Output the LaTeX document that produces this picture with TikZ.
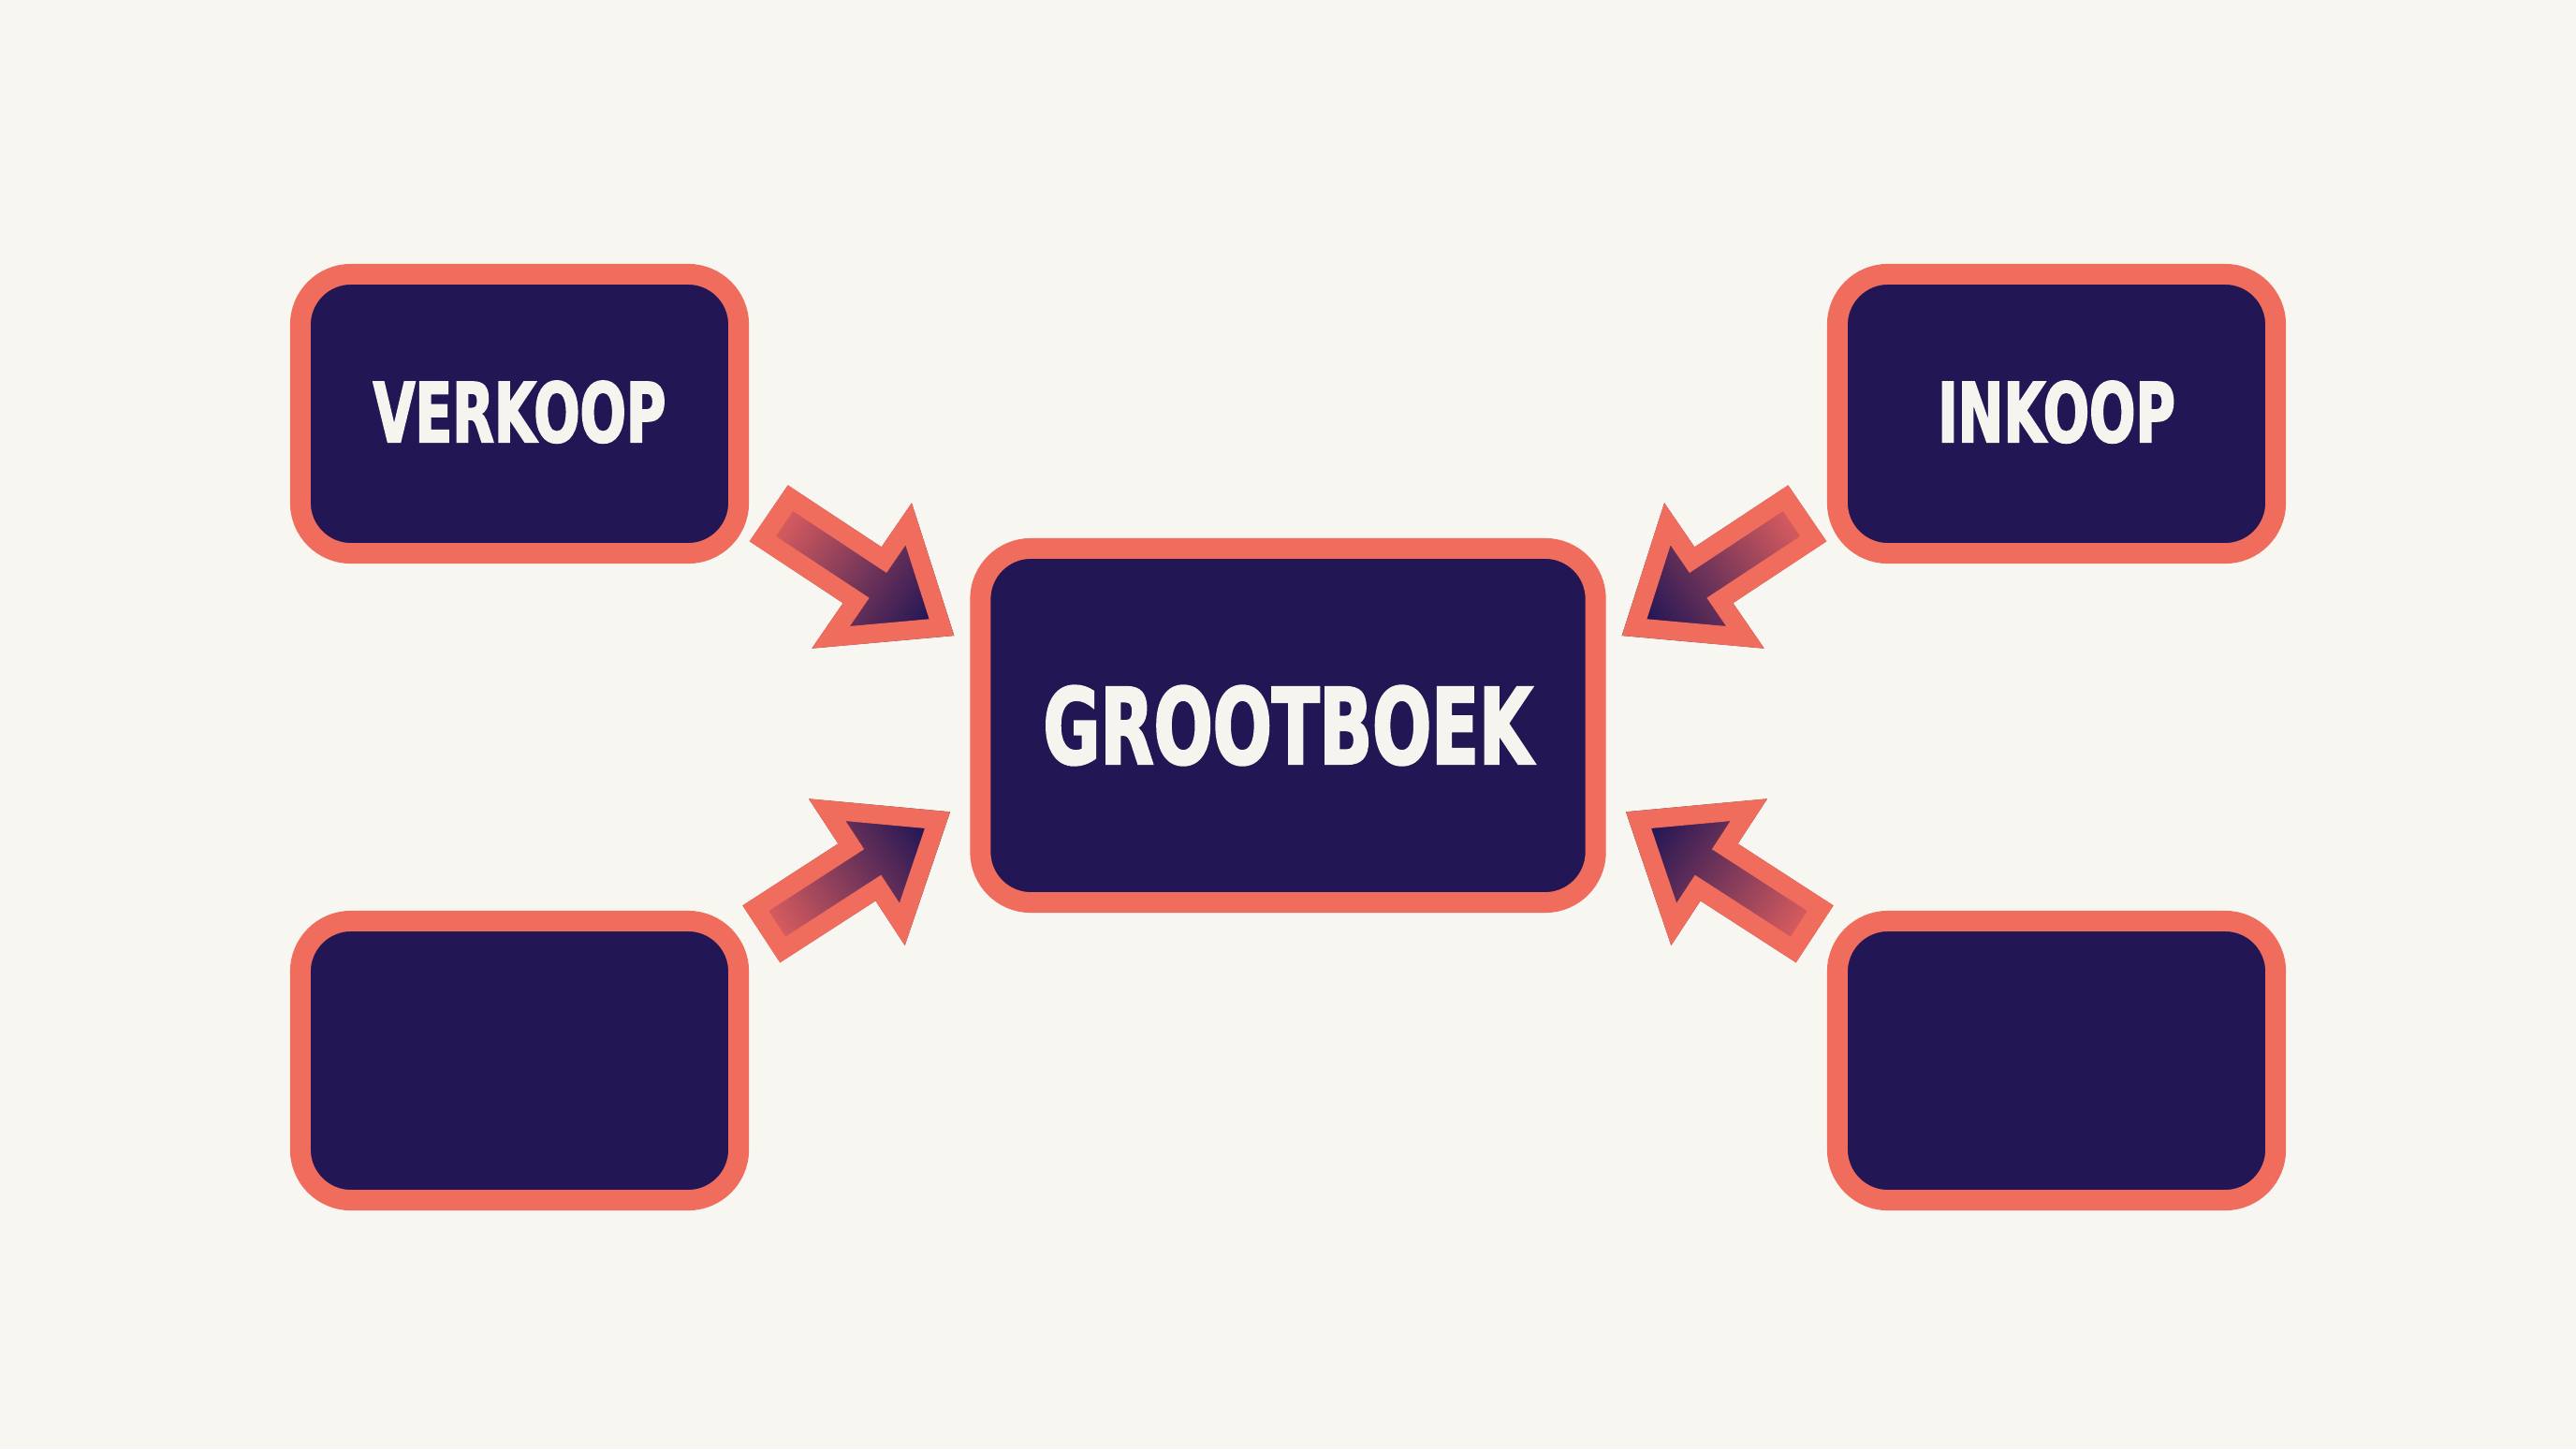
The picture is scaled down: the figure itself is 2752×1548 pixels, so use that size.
\documentclass[tikz,border=0pt]{standalone}
\usepackage{fontspec}
\usepackage{xcolor}
\usepackage{tikz}
\usetikzlibrary{shapes,positioning,calc}

\newfontfamily\boxfont[FakeStretch=0.66,FakeBold=2]{DejaVu Sans Bold}

\definecolor{bgcream}{HTML}{F7F6F1}
\definecolor{boxnavy}{HTML}{231655}
\definecolor{edgeorange}{HTML}{F06C5C}
\definecolor{tailred}{HTML}{E2605F}
\definecolor{labelwhite}{HTML}{F6F4EF}

\begin{document}
\begin{tikzpicture}[x=0.01cm, y=-0.01cm,
    ledger/.style={draw=edgeorange, fill=boxnavy, line width=0.22cm,
        rounded corners=0.54cm, inner sep=0pt, text=labelwhite},
    sidebox/.style={ledger, minimum width=4.68cm, minimum height=2.98cm,
        font=\boxfont\fontsize{25pt}{25pt}\selectfont},
    mainbox/.style={ledger, minimum width=6.57cm, minimum height=3.78cm,
        font=\boxfont\fontsize{32pt}{32pt}\selectfont},
    flowarrow/.style={top color=tailred, middle color=tailred!45!boxnavy,
        bottom color=boxnavy, draw=edgeorange, line width=0.4cm, line join=miter}]

    % Achtergrond
    \fill[bgcream] (0,0) rectangle (2752,1548);

    % Centrale blok
    \node[mainbox] (grootboek) at (1376,775) {GROOTBOEK};

    % Blokken rondom
    \node[sidebox] (verkoop) at (555,442) {\raisebox{0.5mm}{VERKOOP}};
    \node[sidebox] (inkoop) at (2197,442) {\raisebox{0.5mm}{INKOOP}};
    \node[sidebox] (linksonder) at (555,1133) {};
    \node[sidebox] (rechtsonder) at (2197,1133) {};

    % Pijl linksboven
    \begin{scope}
        \clip (841.7,518.3) -- (941.7,584.4) -- (974,537.3) -- (1019.3,679)
            -- (867.3,692.7) -- (900.6,644.2) -- (800.7,578.3) -- cycle;
        \shadedraw[flowarrow, shading angle=56.6] (841.7,518.3) -- (941.7,584.4)
            -- (974,537.3) -- (1019.3,679) -- (867.3,692.7) -- (900.6,644.2)
            -- (800.7,578.3) -- cycle;
    \end{scope}

    % Pijl linksonder
    \begin{scope}
        \clip (833.3,1028.3) -- (935.4,962.3) -- (966.7,1010) -- (1015,867.3)
            -- (864,853.3) -- (895.4,901.3) -- (793.3,967.3) -- cycle;
        \shadedraw[flowarrow, shading angle=123] (833.3,1028.3) -- (935.4,962.3)
            -- (966.7,1010) -- (1015,867.3) -- (864,853.3) -- (895.4,901.3)
            -- (793.3,967.3) -- cycle;
    \end{scope}

    % Pijl rechtsboven
    \begin{scope}
        \clip (1910.3,518.3) -- (1810.3,584.4) -- (1778,537.3) -- (1732.7,679)
            -- (1884.7,692.7) -- (1851.4,644.2) -- (1951.3,578.3) -- cycle;
        \shadedraw[flowarrow, shading angle=-56.6] (1910.3,518.3) -- (1810.3,584.4)
            -- (1778,537.3) -- (1732.7,679) -- (1884.7,692.7) -- (1851.4,644.2)
            -- (1951.3,578.3) -- cycle;
    \end{scope}

    % Pijl rechtsonder
    \begin{scope}
        \clip (1918.7,1028.3) -- (1816.6,962.3) -- (1785.3,1010) -- (1737,867.3)
            -- (1888,853.3) -- (1856.6,901.3) -- (1958.7,967.3) -- cycle;
        \shadedraw[flowarrow, shading angle=-123] (1918.7,1028.3) -- (1816.6,962.3)
            -- (1785.3,1010) -- (1737,867.3) -- (1888,853.3) -- (1856.6,901.3)
            -- (1958.7,967.3) -- cycle;
    \end{scope}
\end{tikzpicture}
\end{document}
